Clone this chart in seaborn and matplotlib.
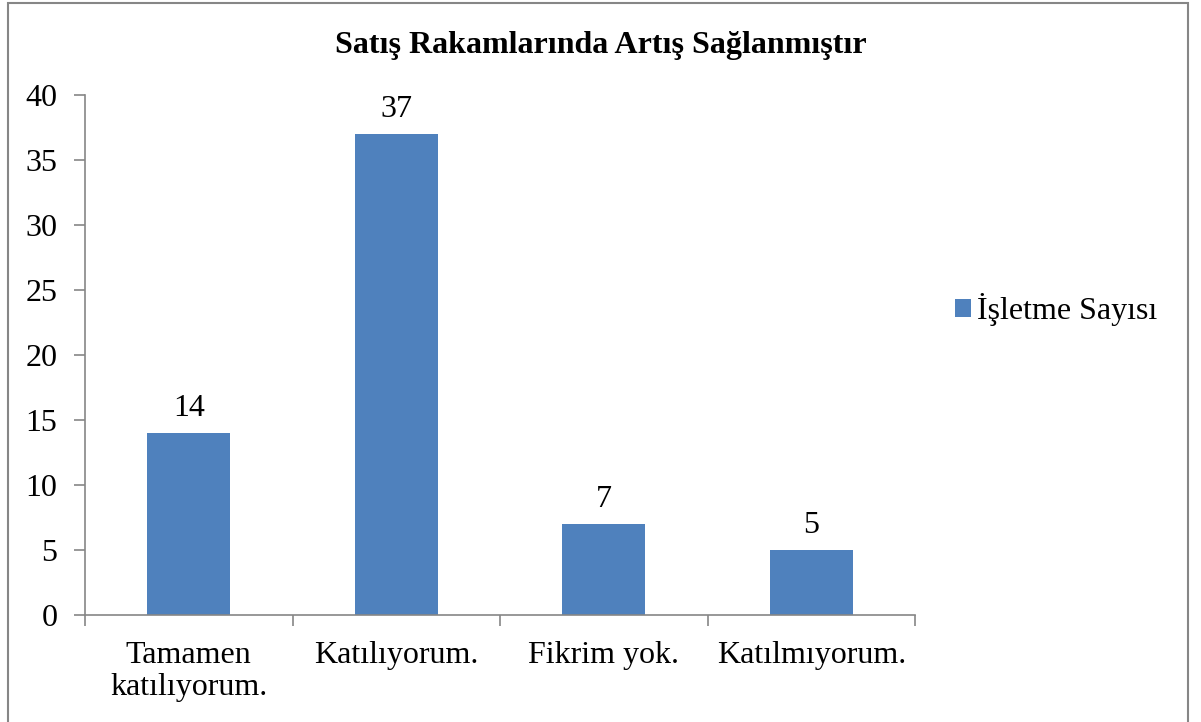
import matplotlib
matplotlib.use('Agg')
import matplotlib.pyplot as plt
import seaborn as sns
import pandas as pd
from matplotlib.patches import Rectangle

# veriler
categories = ['Tamamen\nkatılıyorum.', 'Katılıyorum.', 'Fikrim yok.', 'Katılmıyorum.']
counts = [14, 37, 7, 5]
series_name = 'İşletme Sayısı'
title = 'Satış Rakamlarında Artış Sağlanmıştır'

sns.set_theme(style='white')
plt.rcParams['font.family'] = ['Liberation Serif', 'DejaVu Serif']
plt.rcParams['text.color'] = 'black'
plt.rcParams['xtick.color'] = 'black'
plt.rcParams['ytick.color'] = 'black'

df = pd.DataFrame({'kategori': categories, 'deger': counts})

fig = plt.figure(figsize=(12.01, 7.22), dpi=100)
ax = fig.add_axes([0.0708, 0.1482, 0.6911, 0.7202])

bar_color = '#4F81BD'
sns.barplot(data=df, x='kategori', y='deger', color=bar_color, width=0.4,
            saturation=1, linewidth=0, ax=ax, label=series_name)

for p, v in zip(ax.patches, counts):
    ax.text(p.get_x() + p.get_width() / 2, v + 1.3, str(v),
            ha='center', va='baseline', fontsize=23)

ax.set_ylim(0, 40)
ax.set_xlim(-0.5, 3.5)
ax.set_yticks(range(0, 41, 5))
ax.set_xticks([i - 0.5 for i in range(5)], minor=True)
ax.tick_params(axis='x', which='major', length=0, labelsize=23, pad=19,
               labelcolor='black')
ax.tick_params(axis='x', which='minor', length=8, width=1.2, color='#868686',
               direction='out', bottom=True)
ax.tick_params(axis='y', length=8, width=1.2, color='#868686', labelsize=23,
               labelcolor='black', direction='out', left=True, pad=12)
for lbl in ax.get_xticklabels():
    lbl.set_linespacing(1.12)
ax.set_xlabel('')
ax.set_ylabel('')

for s in ['top', 'right']:
    ax.spines[s].set_visible(False)
for s in ['left', 'bottom']:
    ax.spines[s].set_color('#868686')
    ax.spines[s].set_linewidth(1.2)

fig.text(0.5, 0.937, title, ha='center', va='center', fontsize=23,
         fontweight='bold')

ax.legend(loc='center left', bbox_to_anchor=(1.048, 0.587), frameon=False,
          fontsize=23, handlelength=0.5, handleheight=0.5, handletextpad=0.2,
          borderpad=0, borderaxespad=0)

# dış çerçeve
fig.patches.append(Rectangle((8 / 1201, -0.01), 1180 / 1201, 1.0 - 3 / 722 + 0.01,
                             transform=fig.transFigure, fill=False,
                             edgecolor='#868686', linewidth=1.5))

plt.savefig('out.png', dpi=100)
plt.close()
